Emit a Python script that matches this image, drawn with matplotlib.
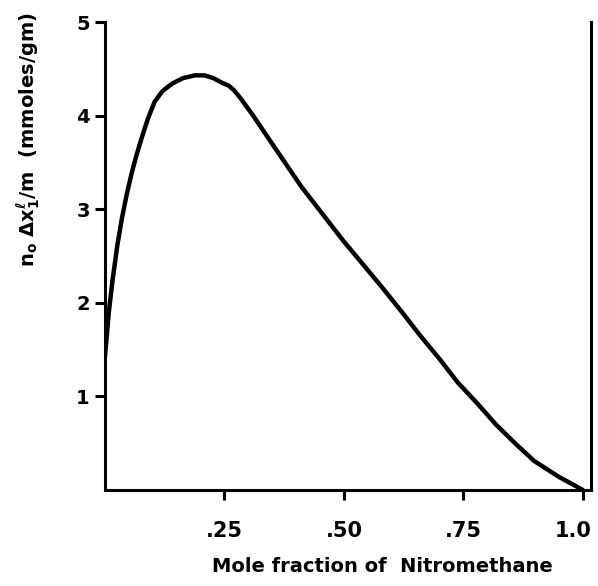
import matplotlib.pyplot as plt
from matplotlib.transforms import ScaledTranslation

# values
mole_fraction = [0.0, 0.008, 0.016, 0.026, 0.036, 0.046, 0.056, 0.066, 0.076, 0.09,
                 0.104, 0.12, 0.14, 0.163, 0.188, 0.208, 0.227, 0.245, 0.259, 0.27,
                 0.283, 0.31, 0.339, 0.375, 0.411, 0.455, 0.499, 0.54, 0.579, 0.62,
                 0.658, 0.70, 0.738, 0.78, 0.818, 0.86, 0.898, 0.95, 1.0]
excess = [1.43, 1.9, 2.25, 2.62, 2.92, 3.17, 3.39, 3.58, 3.75, 3.97,
          4.15, 4.26, 4.34, 4.40, 4.43, 4.43, 4.40, 4.35, 4.32, 4.27,
          4.19, 4.0, 3.78, 3.51, 3.24, 2.95, 2.66, 2.41, 2.17, 1.91,
          1.66, 1.40, 1.15, 0.92, 0.70, 0.49, 0.31, 0.14, 0.0]

x_ticks = [0.25, 0.50, 0.75, 1.0]
x_tick_labels = ['.25', '.50', '.75', '1.0']
y_ticks = [1, 2, 3, 4, 5]

fig = plt.figure(figsize=(5.98, 5.86), dpi=100)
ax = fig.add_axes([105 / 598, 1 - 490 / 586, 486 / 598, 468 / 586])

ax.plot(mole_fraction, excess, color='black', linewidth=3.2,
        solid_capstyle='round', solid_joinstyle='round')

ax.set_xlim(0, 1.017)
ax.set_ylim(0, 5.0)

# frame open at the top, like the original drawing
ax.spines['top'].set_visible(False)
for side in ['left', 'right', 'bottom']:
    ax.spines[side].set_linewidth(2.2)

ax.set_xticks(x_ticks)
ax.set_xticklabels(x_tick_labels, fontsize=15, fontweight='bold')
ax.set_yticks(y_ticks)
ax.set_yticklabels([str(v) for v in y_ticks], fontsize=14, fontweight='bold')
ax.tick_params(axis='both', direction='out', length=7, width=2.2)
ax.tick_params(axis='x', pad=15)
ax.tick_params(axis='y', pad=4)

# keep "1.0" inside the figure edge
last = ax.get_xticklabels()[-1]
last.set_horizontalalignment('right')
last.set_transform(last.get_transform() + ScaledTranslation(9 / 100, 0, fig.dpi_scale_trans))

fig.text(28 / 598, 1 - 140 / 586, r'n$_\mathbf{o}$ $\mathbf{\Delta}$x$_\mathbf{1}^\mathbf{\ell}$/m  (mmoles/gm)',
         rotation=90, ha='center', va='center', fontsize=14, fontweight='bold')
fig.text(382 / 598, 1 - 567 / 586, 'Mole fraction of  Nitromethane',
         ha='center', va='center', fontsize=14, fontweight='bold')

plt.savefig('out.png', dpi=100)
